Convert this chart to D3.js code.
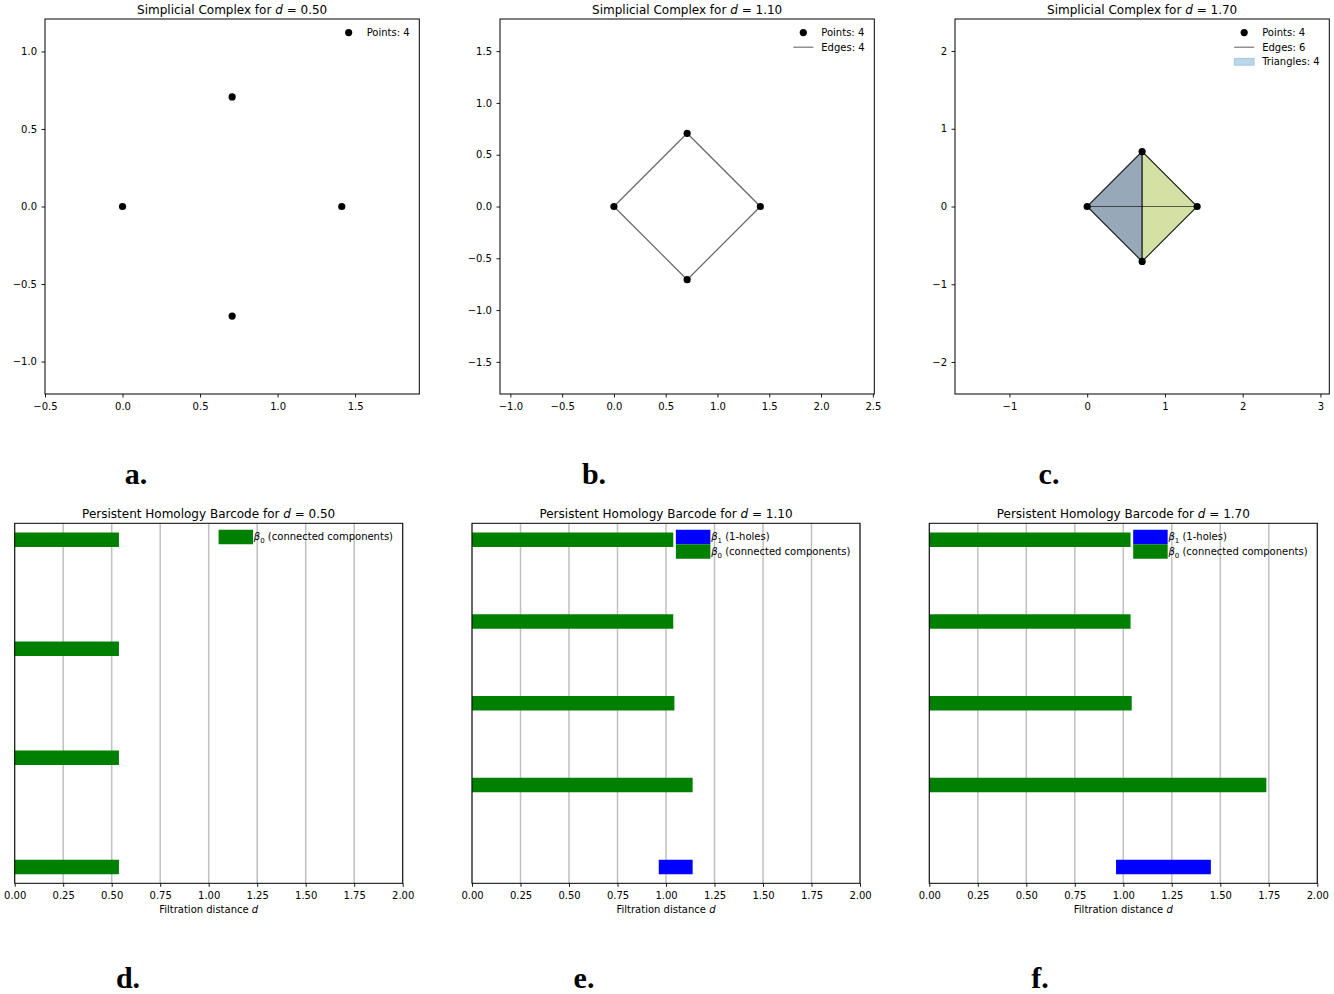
<!DOCTYPE html>
<html>
<head>
<meta charset="utf-8">
<script src="https://cdn.jsdelivr.net/npm/d3@7"></script>
<style>
  body { margin: 0; background: #fff; }
  text { font-family: "DejaVu Sans", sans-serif; }
</style>
</head>
<body>
<svg id="fig" width="1334" height="994"></svg>
<script>
// filtration distances shown in the three columns
var thresholds = [0.5, 1.1, 1.7];

// the four points (a rotated unit square)
var pointX = [0, 0.707, 1.414, 0.707];
var pointY = [0, 0.707, 0, -0.707];

// simplices present at each distance (indices into the points)
var edges050 = [];
var edges110 = [[0, 1], [1, 2], [2, 3], [3, 0]];
var edges170 = [[0, 1], [0, 2], [0, 3], [1, 2], [1, 3], [2, 3]];
var triangles050 = [];
var triangles110 = [];
var triangles170 = [[0, 1, 2], [0, 2, 3], [0, 1, 3], [1, 2, 3]];
var triangleColors = ["#b5c4ae", "#b5c4ae", "#97a9b8", "#d4e0a4"];

// tick labels
var xTicks050 = [-0.5, 0, 0.5, 1, 1.5];
var yTicks050 = [-1, -0.5, 0, 0.5, 1];
var xTicks110 = [-1, -0.5, 0, 0.5, 1, 1.5, 2, 2.5];
var yTicks110 = [-1.5, -1, -0.5, 0, 0.5, 1, 1.5];
var xTicks170 = [-1, 0, 1, 2, 3];
var yTicks170 = [-2, -1, 0, 1, 2];
var barTicks = [0, 0.25, 0.5, 0.75, 1, 1.25, 1.5, 1.75, 2];

// barcodes (beta0 births are all 0), listed bottom row first
var beta0Death050 = [0.5, 0.5, 0.5, 0.5];
var beta0Death110 = [1.1, 1.006, 1.0, 1.0];
var beta0Death170 = [1.7, 1.006, 1.0, 1.0];
var beta1Birth050 = [], beta1Death050 = [];
var beta1Birth110 = [1.0], beta1Death110 = [1.1];
var beta1Birth170 = [1.0], beta1Death170 = [1.414];

var panelLetters = ["a.", "b.", "c.", "d.", "e.", "f."];

// ---- layout ----
var topLefts = [45, 500, 955], topW = 374.3, topTop = 19, topBottom = 394;
var botLefts = [14.7, 472, 929.3], botW = 388, botTop = 523.3, botBottom = 883.3;
var letterPos = [[136, 484], [594, 484], [1049, 484], [128, 988], [584, 988], [1040, 988]];

var svg = d3.select("#fig");
svg.append("rect").attr("width", 1334).attr("height", 994).attr("fill", "#fff");

var fmt2 = d3.format(".2f");

function styleAxis(ax) {
  ax.attr("font-family", "DejaVu Sans").attr("font-size", 10);
  ax.selectAll(".tick line").attr("stroke", "#000").attr("stroke-width", 0.9);
  ax.selectAll(".tick text").attr("fill", "#000");
}

function title(g, w, prefix, d) {
  var t = g.append("text").attr("x", w / 2).attr("y", -5.5)
    .attr("text-anchor", "middle").attr("font-size", 12).attr("fill", "#000");
  t.append("tspan").text(prefix + " for ");
  t.append("tspan").attr("font-style", "italic").text("d");
  t.append("tspan").text(" = " + fmt2(d));
}

function legend(g, right, items) {
  var lg = g.append("g");
  var maxW = 0;
  items.forEach(function(it, i) {
    var row = lg.append("g").attr("transform", "translate(0," + (13.6 + i * 14.6) + ")");
    if (it.kind == "dot") {
      row.append("circle").attr("cx", 10).attr("r", 3.6).attr("fill", "#000");
    } else if (it.kind == "line") {
      row.append("line").attr("x1", 0).attr("x2", 20)
        .attr("stroke", "#000").attr("stroke-opacity", 0.55).attr("stroke-width", 1.2);
    } else if (it.kind == "patch") {
      row.append("rect").attr("x", 0).attr("y", -3.5).attr("width", 20).attr("height", 7)
        .attr("fill", "#1f77b4").attr("fill-opacity", 0.3)
        .attr("stroke", "#1f77b4").attr("stroke-opacity", 0.3).attr("stroke-width", 0.8);
    } else if (it.kind == "bar") {
      row.append("line").attr("x1", 0).attr("x2", 20)
        .attr("stroke", it.color).attr("stroke-width", 14.5).attr("stroke-linecap", "square");
    }
    var t = row.append("text").attr("x", 28).attr("dy", "0.35em")
      .attr("font-size", 10).attr("fill", "#000");
    it.label(t);
    maxW = Math.max(maxW, t.node().getComputedTextLength());
  });
  lg.attr("transform", "translate(" + (right - 9.7 - 28 - maxW) + ",0)");
}

function plainLabel(s) {
  return function(t) { t.text(s); };
}
function betaLabel(sub, rest) {
  return function(t) {
    t.append("tspan").attr("font-style", "italic").text("β");
    t.append("tspan").attr("font-size", 7).attr("dy", 2.5).text(sub);
    t.append("tspan").attr("dy", -2.5).text(" " + rest);
  };
}

function simplexPanel(idx, d, edges, tris, xt, yt, fmt) {
  var w = topW, h = topBottom - topTop;
  var xMax = d3.max(pointX) + d;
  var x = d3.scaleLinear().domain([-d, xMax]).range([0, w]);
  var k = w / (xMax + d);
  var half = h / 2 / k;
  var y = d3.scaleLinear().domain([-half, half]).range([h, 0]);

  var g = svg.append("g").attr("transform", "translate(" + topLefts[idx] + "," + topTop + ")");

  // triangles
  g.selectAll(".tri").data(tris).enter().append("polygon")
    .attr("points", function(t) {
      return t.map(function(p) { return x(pointX[p]) + "," + y(pointY[p]); }).join(" ");
    })
    .attr("fill", function(t, i) { return triangleColors[i]; })
    .attr("stroke", "#000").attr("stroke-opacity", 0.5).attr("stroke-width", 1);

  // edges
  g.selectAll(".edge").data(edges).enter().append("line")
    .attr("x1", function(e) { return x(pointX[e[0]]); })
    .attr("y1", function(e) { return y(pointY[e[0]]); })
    .attr("x2", function(e) { return x(pointX[e[1]]); })
    .attr("y2", function(e) { return y(pointY[e[1]]); })
    .attr("stroke", "#000").attr("stroke-opacity", 0.6).attr("stroke-width", 1.2);

  // points
  g.selectAll(".pt").data(pointX).enter().append("circle")
    .attr("cx", function(v) { return x(v); })
    .attr("cy", function(v, i) { return y(pointY[i]); })
    .attr("r", 3.6).attr("fill", "#000");

  var ax = g.append("g").attr("transform", "translate(0," + h + ")")
    .call(d3.axisBottom(x).tickValues(xt).tickFormat(fmt).tickSize(3.5).tickSizeOuter(0).tickPadding(5));
  ax.select(".domain").remove();
  styleAxis(ax);
  var ay = g.append("g")
    .call(d3.axisLeft(y).tickValues(yt).tickFormat(fmt).tickSize(3.5).tickSizeOuter(0).tickPadding(4.5));
  ay.select(".domain").remove();
  styleAxis(ay);

  g.append("rect").attr("width", w).attr("height", h)
    .attr("fill", "none").attr("stroke", "#000").attr("stroke-width", 1);

  title(g, w, "Simplicial Complex", d);

  var items = [{ kind: "dot", label: plainLabel("Points: " + pointX.length) }];
  if (edges.length) items.push({ kind: "line", label: plainLabel("Edges: " + edges.length) });
  if (tris.length) items.push({ kind: "patch", label: plainLabel("Triangles: " + tris.length) });
  legend(g, w, items);
}

function barcodePanel(idx, d, b0Death, b1Birth, b1Death) {
  var w = botW, h = botBottom - botTop;
  var rows = [];
  b1Birth.forEach(function(b, i) { rows.push({ birth: b, death: b1Death[i], color: "#0000ff" }); });
  b0Death.forEach(function(v) { rows.push({ birth: 0, death: v, color: "#008000" }); });
  var n = rows.length - 1;

  var x = d3.scaleLinear().domain([0, 2]).range([0, w]);
  var y = d3.scaleLinear().domain([-0.05 * n, 1.05 * n]).range([h, 0]);

  var g = svg.append("g").attr("transform", "translate(" + botLefts[idx] + "," + botTop + ")");
  var clipId = "clip" + idx;
  g.append("clipPath").attr("id", clipId).append("rect").attr("width", w).attr("height", h);

  // vertical grid
  g.selectAll(".grid").data(barTicks).enter().append("line")
    .attr("x1", function(v) { return x(v); }).attr("x2", function(v) { return x(v); })
    .attr("y1", 0).attr("y2", h)
    .attr("stroke", "#b0b0b0").attr("stroke-opacity", 0.8).attr("stroke-width", 1.5);

  g.append("g").attr("clip-path", "url(#" + clipId + ")")
    .selectAll(".bar").data(rows).enter().append("line")
    .attr("x1", function(r) { return x(r.birth); })
    .attr("x2", function(r) { return x(r.death); })
    .attr("y1", function(r, i) { return y(i); })
    .attr("y2", function(r, i) { return y(i); })
    .attr("stroke", function(r) { return r.color; })
    .attr("stroke-width", 14.5).attr("stroke-linecap", "square");

  var ax = g.append("g").attr("transform", "translate(0," + h + ")")
    .call(d3.axisBottom(x).tickValues(barTicks).tickFormat(fmt2).tickSize(3.5).tickSizeOuter(0).tickPadding(5));
  ax.select(".domain").remove();
  styleAxis(ax);

  g.append("rect").attr("width", w).attr("height", h)
    .attr("fill", "none").attr("stroke", "#000").attr("stroke-width", 1);

  var xl = g.append("text").attr("x", w / 2).attr("y", h + 29.5)
    .attr("text-anchor", "middle").attr("font-size", 10).attr("fill", "#000");
  xl.append("tspan").text("Filtration distance ");
  xl.append("tspan").attr("font-style", "italic").text("d");

  title(g, w, "Persistent Homology Barcode", d);

  var items = [];
  if (b1Birth.length) items.push({ kind: "bar", color: "#0000ff", label: betaLabel("1", "(1-holes)") });
  items.push({ kind: "bar", color: "#008000", label: betaLabel("0", "(connected components)") });
  legend(g, w, items);
}

simplexPanel(0, thresholds[0], edges050, triangles050, xTicks050, yTicks050, d3.format(".1f"));
simplexPanel(1, thresholds[1], edges110, triangles110, xTicks110, yTicks110, d3.format(".1f"));
simplexPanel(2, thresholds[2], edges170, triangles170, xTicks170, yTicks170, d3.format("d"));

barcodePanel(0, thresholds[0], beta0Death050, beta1Birth050, beta1Death050);
barcodePanel(1, thresholds[1], beta0Death110, beta1Birth110, beta1Death110);
barcodePanel(2, thresholds[2], beta0Death170, beta1Birth170, beta1Death170);

svg.selectAll(".letter").data(panelLetters).enter().append("text")
  .attr("x", function(s, i) { return letterPos[i][0]; })
  .attr("y", function(s, i) { return letterPos[i][1]; })
  .attr("text-anchor", "middle")
  .style("font-family", "'Liberation Serif', serif")
  .attr("font-weight", "bold").attr("font-size", 30).attr("fill", "#000")
  .text(function(s) { return s; });
</script>
</body>
</html>
